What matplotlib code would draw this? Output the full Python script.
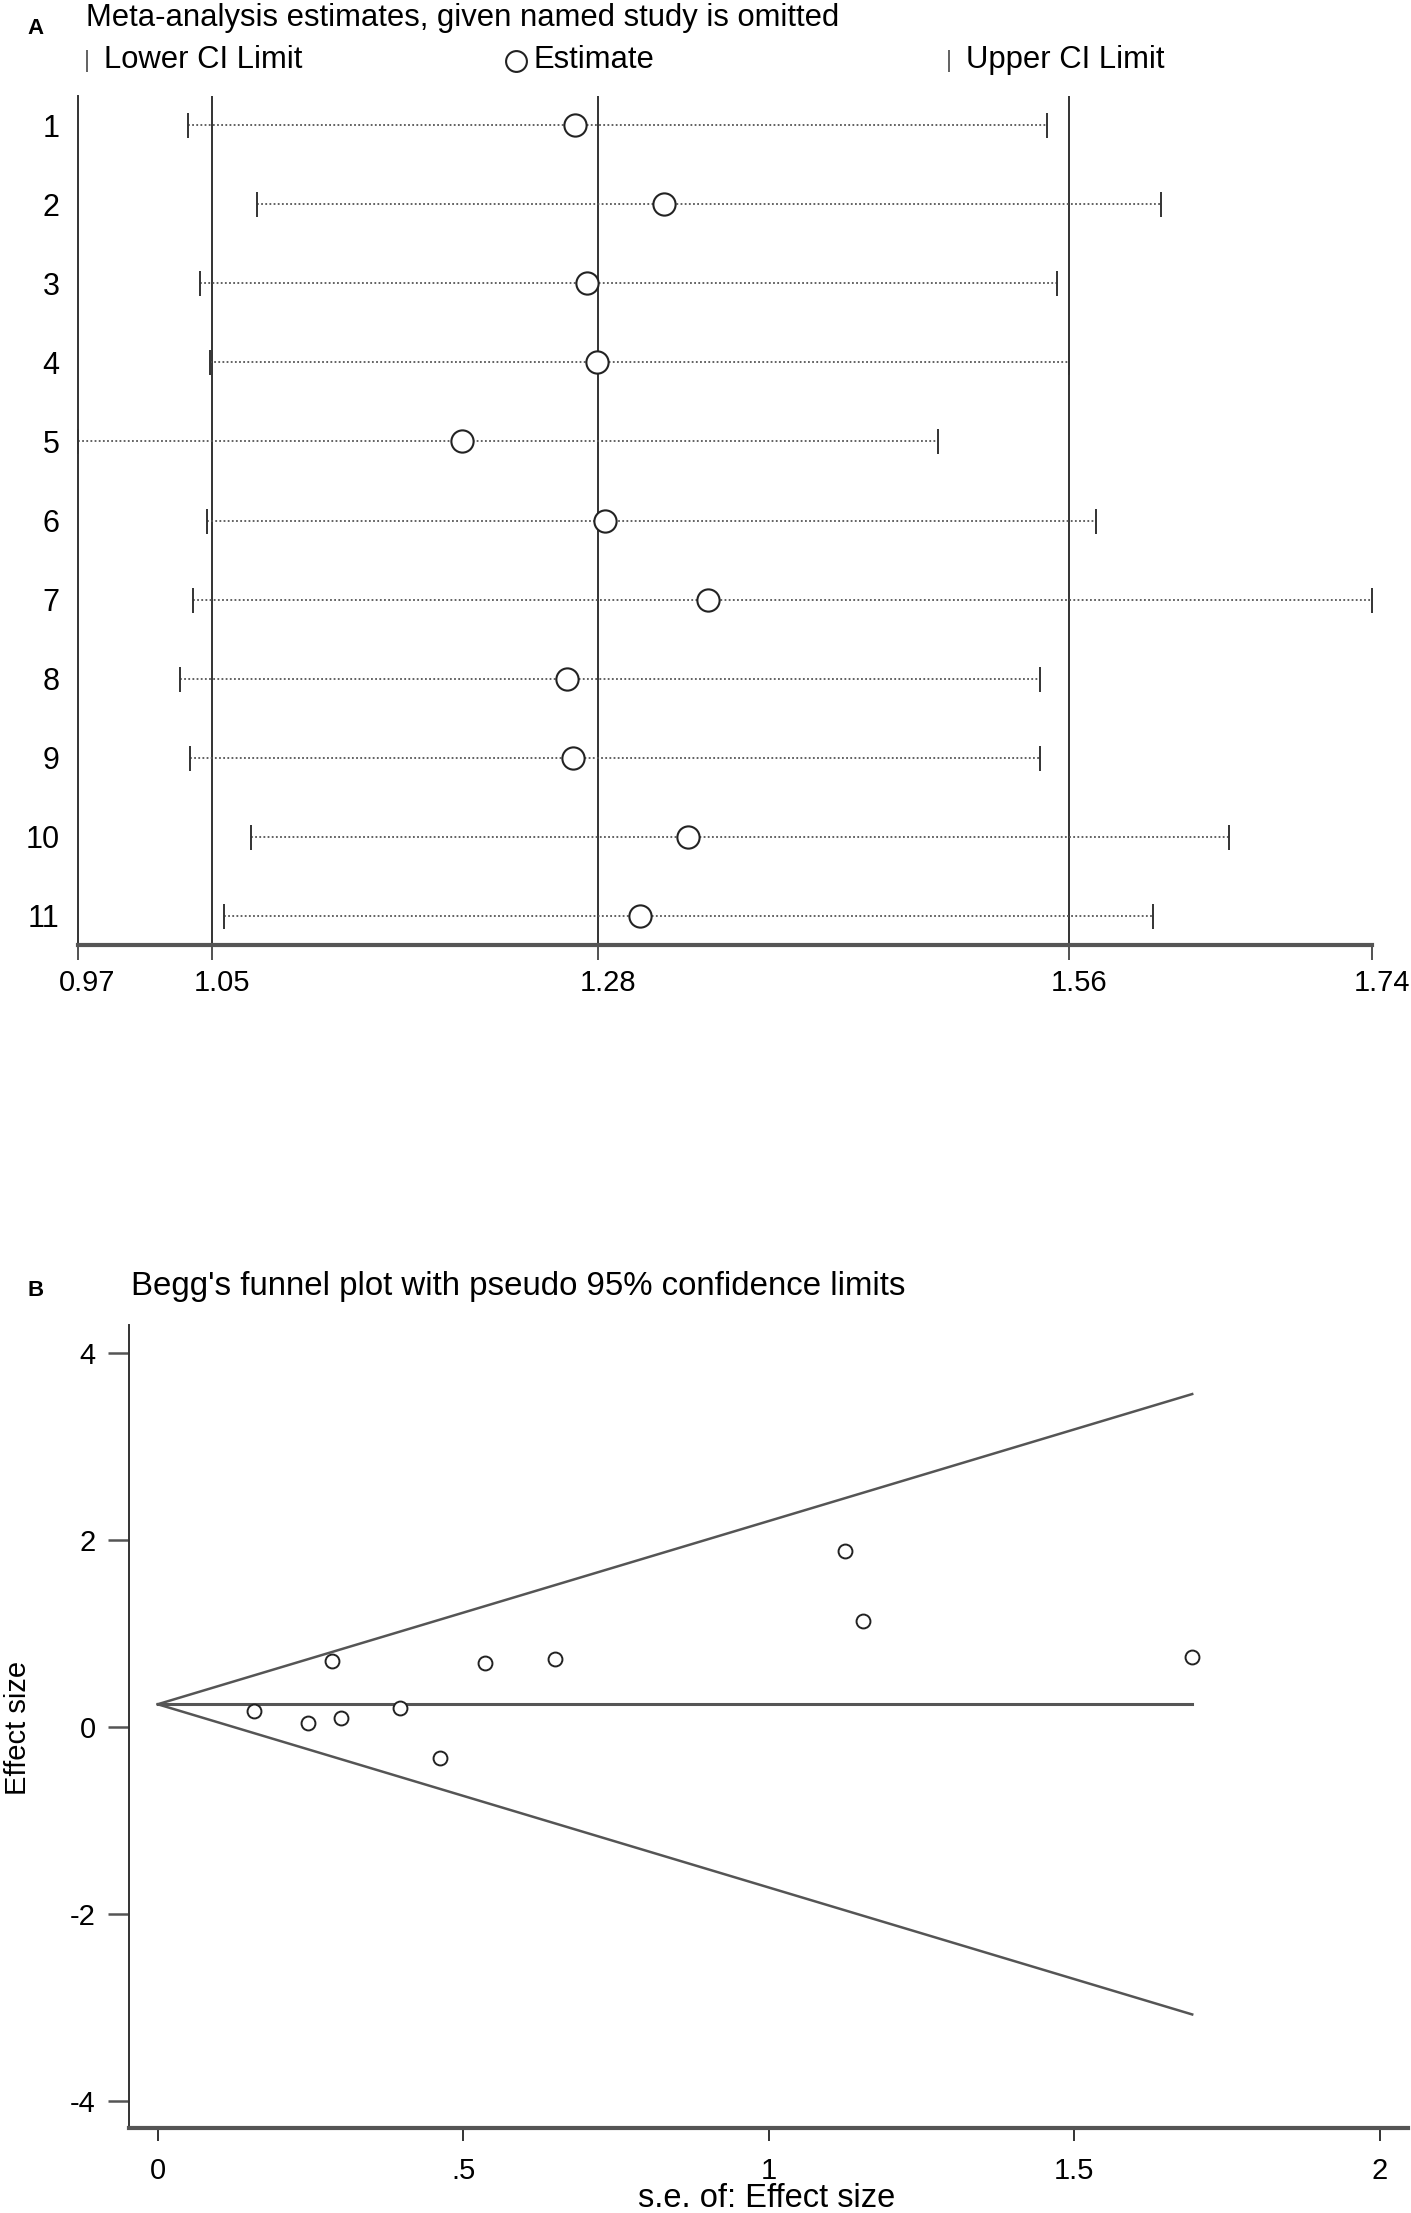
import numpy as np
import matplotlib.pyplot as plt
from matplotlib.lines import Line2D
from matplotlib.transforms import ScaledTranslation, blended_transform_factory

plt.rcParams['font.family'] = ['Liberation Sans', 'DejaVu Sans']

W, H = 1411, 2213

# panel A: meta-analysis estimates with one study omitted
studies = ['1', '2', '3', '4', '5', '6', '7', '8', '9', '10', '11']
lower = [1.036, 1.077, 1.043, 1.049, 0.970, 1.047, 1.039, 1.031, 1.037, 1.073, 1.057]
estimate = [1.266, 1.319, 1.273, 1.279, 1.199, 1.284, 1.345, 1.261, 1.265, 1.333, 1.305]
upper = [1.547, 1.615, 1.553, 1.560, 1.482, 1.576, 1.740, 1.543, 1.543, 1.655, 1.610]
pooled = [1.05, 1.28, 1.56]
a_ticks = [0.97, 1.05, 1.28, 1.56, 1.74]

# panel B: Begg's funnel plot
se = [0.158, 0.246, 0.300, 0.397, 0.286, 0.536, 0.651, 1.125, 1.155, 1.693, 0.462]
effect = [0.171, 0.046, 0.093, 0.207, 0.707, 0.682, 0.732, 1.878, 1.136, 0.750, -0.329]
theta = 0.243
b_xticks = [0, 0.5, 1, 1.5, 2]
b_xlabels = ['0', '.5', '1', '1.5', '2']
b_yticks = [-4, -2, 0, 2, 4]


def fx(x):
    return x / W


def fy(y):
    return 1 - y / H


fig = plt.figure(figsize=(W / 100, H / 100), dpi=100)

# ---------------- panel A ----------------
axA = fig.add_axes([fx(77.5), fy(945), (1371.5 - 77.5) / W, (945 - 96) / H])
rows = np.arange(1, len(studies) + 1)
for y, lo, est, up in zip(rows, lower, estimate, upper):
    axA.plot([lo, up], [y, y], color='#555555', lw=1.3, ls=(0, (1, 1.3)), zorder=2)
    axA.plot([lo, up], [y, y], ls='none', marker='|', ms=18, mew=1.4,
             color='#333333', clip_on=False, zorder=3)
    axA.plot(est, y, 'o', ms=16, mfc='white', mec='#222222', mew=1.5,
             zorder=4)
for v in pooled:
    axA.axvline(v, color='#333333', lw=1.4, zorder=1)

axA.set_xlim(0.97, 1.74)
axA.set_ylim(11.37, 0.63)
axA.set_yticks(rows)
axA.set_yticklabels(studies, fontsize=22)
axA.tick_params(axis='y', length=0, pad=13)
axA.set_xticks(a_ticks)
axA.set_xticklabels([])
axA.tick_params(axis='x', length=11, width=1.2, color='#333333')
trans = blended_transform_factory(axA.transData, axA.transAxes)
off = ScaledTranslation(10 / 100, 0, fig.dpi_scale_trans)
for t in a_ticks:
    axA.text(t, -0.045, f'{t:.2f}', transform=trans + off, ha='center',
             va='center', fontsize=21)
for s in ['top', 'right']:
    axA.spines[s].set_visible(False)
axA.spines['left'].set_linewidth(1.4)
axA.spines['left'].set_color('#333333')
axA.spines['bottom'].set_linewidth(3)
axA.spines['bottom'].set_color('#555555')

fig.text(fx(36), fy(28), 'A', fontsize=16, fontweight='bold', ha='center', va='center')
fig.text(fx(86), fy(18), 'Meta-analysis estimates, given named study is omitted',
         fontsize=22.3, ha='left', va='center')

# legend row
fig.add_artist(Line2D([fx(87)], [fy(61)], marker='|', ms=16, mew=1.3,
                      color='#555555', transform=fig.transFigure))
fig.text(fx(104), fy(60), 'Lower CI Limit', fontsize=22.3, ha='left', va='center')
fig.add_artist(Line2D([fx(516)], [fy(61)], marker='o', ms=15, mfc='white',
                      mec='#222222', mew=1.5, transform=fig.transFigure))
fig.text(fx(534), fy(60), 'Estimate', fontsize=22.3, ha='left', va='center')
fig.add_artist(Line2D([fx(949)], [fy(61)], marker='|', ms=16, mew=1.3,
                      color='#555555', transform=fig.transFigure))
fig.text(fx(966), fy(60), 'Upper CI Limit', fontsize=22.3, ha='left', va='center')

# ---------------- panel B ----------------
axB = fig.add_axes([fx(129), fy(2128), (1408.5 - 129) / W, (2128 - 1325) / H])
se_line = np.array([0, max(se)])
axB.plot(se_line, theta + 1.96 * se_line, color='#555555', lw=1.8)
axB.plot(se_line, theta - 1.96 * se_line, color='#555555', lw=1.8)
axB.plot(se_line, [theta, theta], color='#555555', lw=2.2)
axB.plot(se, effect, 'o', ms=10, mfc='white', mec='#222222', mew=1.4, ls='none')

axB.set_xlim(-0.047, 2.047)
axB.set_ylim(-4.29, 4.30)
axB.set_xticks(b_xticks)
axB.set_xticklabels(b_xlabels, fontsize=21)
axB.set_yticks(b_yticks)
axB.set_yticklabels([str(v) for v in b_yticks], fontsize=21)
axB.tick_params(axis='y', length=15, width=1.8, color='#555555', pad=9)
axB.tick_params(axis='x', length=9, width=1.4, color='#333333', pad=12)
for s in ['top', 'right']:
    axB.spines[s].set_visible(False)
axB.spines['left'].set_linewidth(1.4)
axB.spines['left'].set_color('#333333')
axB.spines['bottom'].set_linewidth(3)
axB.spines['bottom'].set_color('#555555')

fig.text(fx(36), fy(1290), 'B', fontsize=16, fontweight='bold', ha='center', va='center')
fig.text(fx(131), fy(1287), "Begg's funnel plot with pseudo 95% confidence limits",
         fontsize=23.8, ha='left', va='center')
fig.text(fx(18), fy(1728), 'Effect size', fontsize=21, rotation=90,
         ha='center', va='center')
fig.text(fx(767), fy(2207), 's.e. of: Effect size', fontsize=23.5, ha='center',
         va='baseline')

fig.savefig('out.png', dpi=100)
